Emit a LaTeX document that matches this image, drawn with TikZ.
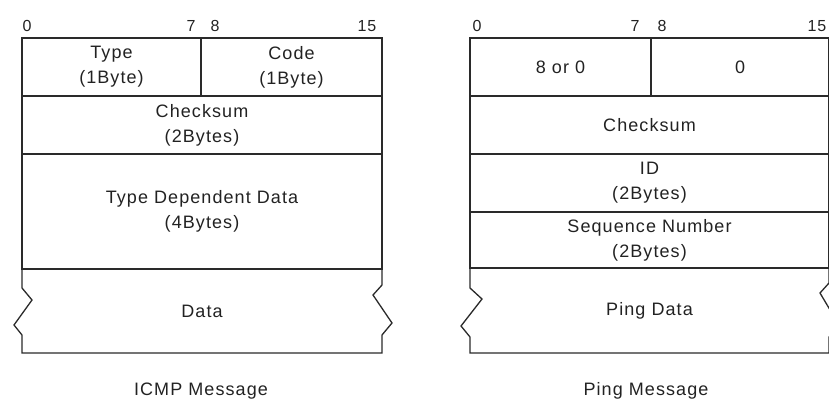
\documentclass[tikz,border=0pt]{standalone}
\usepackage{fontspec}
\setmainfont{Liberation Sans}[LetterSpace=6]
\definecolor{linec}{HTML}{2A2A2A}
\definecolor{txtc}{HTML}{222222}
\begin{document}
\begin{tikzpicture}[x=1pt,y=-1pt,
  cell/.style={draw=linec, line width=1.3pt, inner sep=0pt, font=\fontsize{18}{25}\selectfont, text=txtc, align=center},
  txt/.style={inner sep=0pt, font=\fontsize{18}{25}\selectfont, text=txtc, align=center},
  bit/.style={inner sep=0pt, font=\fontsize{16}{18}\selectfont, text=txtc},
  torn/.style={draw=linec, line width=1.3pt, line join=miter}]
\useasboundingbox (0,0) rectangle (829,401);
% ICMP message
\node[bit] (l0) at (27,26) {0};
\node[bit] (l7) at (191,26) {7};
\node[bit] (l8) at (215,26) {8};
\node[bit] (l15) at (367,26) {15};
\node[cell, minimum width=179, minimum height=58] (ltype) at (111.5,67) {Type\\(1Byte)};
\node[cell, minimum width=181, minimum height=58] (lcode) at (291.5,67) {Code\\(1Byte)};
\node[cell, minimum width=360, minimum height=58] (lsum) at (202,125) {Checksum\\(2Bytes)};
\node[cell, minimum width=360, minimum height=115] (ldep) at (202,211.5) {Type Dependent Data\\(4Bytes)};
\draw[torn] (22,269) -- (22,288) -- (32,300) -- (14,325) -- (22,335) -- (22,353) -- (382,353) -- (382,335) -- (392,323) -- (373,295) -- (382,285) -- (382,269);
\node[txt] (ldata) at (202,311) {Data};
\node[txt] (lcap) at (201,391) {ICMP Message};
% Ping message
\node[bit] (r0) at (477,26) {0};
\node[bit] (r7) at (635,26) {7};
\node[bit] (r8) at (662,26) {8};
\node[bit] (r15) at (817,26) {15};
\node[cell, minimum width=181, minimum height=58] (rtype) at (560.5,67) {8 or 0};
\node[cell, minimum width=178, minimum height=58] (rcode) at (740,67) {0};
\node[cell, minimum width=359, minimum height=58] (rsum) at (649.5,125) {Checksum};
\node[cell, minimum width=359, minimum height=58] (rid) at (649.5,183) {ID\\(2Bytes)};
\node[cell, minimum width=359, minimum height=56] (rseq) at (649.5,240) {Sequence Number\\(2Bytes)};
\draw[torn] (470,268) -- (470,288) -- (482,299) -- (461,326) -- (470,337) -- (470,353) -- (829,353) -- (829,337) -- (839,325) -- (820,293) -- (829,283) -- (829,268);
\node[txt] (rdata) at (649.5,311) {Ping Data};
\node[txt] (rcap) at (646,391) {Ping Message};
\end{tikzpicture}
\end{document}
